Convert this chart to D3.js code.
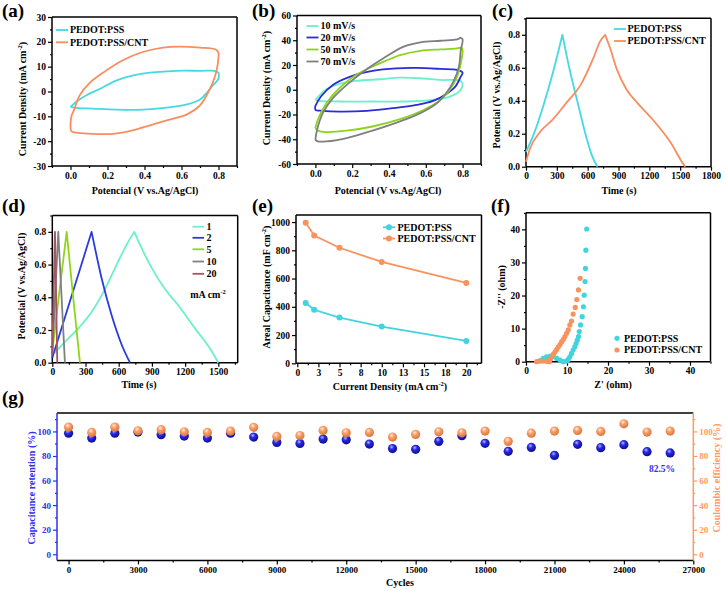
<!DOCTYPE html>
<html><head><meta charset="utf-8">
<script src="https://cdn.jsdelivr.net/npm/d3@7/dist/d3.min.js"></script>
<style>
body{margin:0;background:#fff}
svg{display:block}
text{font-family:"Liberation Serif","Times New Roman",serif;font-weight:bold}
</style></head>
<body><svg id="c" width="726" height="591"></svg>
<script>
// ---------------- DATA ----------------
// (a) CV loops [potential V, current mA cm-2]
const cvPSS = [[0,-6.2],[0.03,-4.2],[0.086,-1.5],[0.16,1.1],[0.25,4.5],[0.34,6.5],[0.43,7.6],[0.52,8.1],[0.61,8.4],[0.70,8.3],[0.78,8.3],[0.8,7.5],[0.8,5.2],[0.77,2.5],[0.74,-0.2],[0.70,-3.2],[0.63,-5.2],[0.52,-6.5],[0.39,-7.3],[0.25,-7.3],[0.12,-6.9],[0.03,-6.6],[0,-6.2]];
const cvCNT = [[0,-13.6],[0.005,-10],[0.018,-7.6],[0.05,-1.5],[0.10,3.2],[0.18,7.8],[0.28,12.5],[0.39,15.9],[0.5,17.7],[0.59,18.1],[0.70,17.7],[0.785,16.9],[0.8,15.5],[0.8,13.9],[0.79,8.5],[0.77,3.8],[0.74,-0.9],[0.70,-5.6],[0.63,-9.2],[0.52,-11.6],[0.43,-13.6],[0.34,-15.6],[0.23,-17.1],[0.10,-17],[0.03,-16.6],[0.005,-16],[0,-13.6]];
// (b) CV at scan rates
const scanLabels = ["10 mV/s","20 mV/s","50 mV/s","70 mV/s"];
const cv10 = [[0,-8.2],[0.06,0.4],[0.13,4.7],[0.22,7.1],[0.35,8.5],[0.46,9.8],[0.57,9.3],[0.68,7.9],[0.79,7.1],[0.8,3.9],[0.78,-1.5],[0.73,-5.5],[0.64,-8.2],[0.50,-9.5],[0.31,-9.5],[0.13,-9.5],[0.02,-9],[0,-8.2]];
const cv20 = [[0,-13],[0.03,-5.5],[0.095,3.9],[0.19,10.6],[0.31,15.2],[0.44,17.3],[0.55,17.6],[0.68,16.8],[0.77,16],[0.8,13.8],[0.79,10.6],[0.76,2.5],[0.71,-3.6],[0.64,-9],[0.55,-12.2],[0.42,-14.9],[0.28,-17],[0.13,-17.6],[0.04,-17],[0,-16.2],[0,-13]];
const cv50 = [[0,-31],[0.013,-24.3],[0.06,-10.9],[0.13,1.2],[0.22,11.9],[0.35,21.3],[0.46,28],[0.57,31.5],[0.68,32.6],[0.77,33.4],[0.795,34],[0.8,32],[0.79,21.3],[0.77,10.6],[0.73,-0.1],[0.68,-8.2],[0.59,-16.2],[0.46,-23.8],[0.31,-29.7],[0.17,-33.1],[0.06,-34.2],[0.013,-33],[0,-31]];
const cv70 = [[0,-40.4],[0.007,-33.7],[0.04,-18.9],[0.095,-6.8],[0.17,3.9],[0.26,14.6],[0.37,25.4],[0.48,34.8],[0.57,38.3],[0.68,39.6],[0.77,40.7],[0.79,42],[0.8,40.7],[0.79,32],[0.78,18.7],[0.75,6.6],[0.71,-2.8],[0.66,-10.9],[0.57,-18.9],[0.46,-25.6],[0.31,-33.1],[0.17,-39],[0.06,-41.7],[0.013,-41.7],[0,-40.4]];
// (c) GCD [time s, potential V]
const gcdPSS = [[0,0.09],[71,0.19],[169,0.37],[266,0.58],[354,0.8],[428,0.58],[510,0.37],[591,0.17],[640,0.07],[695,0]];
const gcdCNT = [[0,0.03],[39,0.11],[136,0.21],[266,0.29],[396,0.39],[526,0.49],[656,0.66],[721,0.76],[770,0.8],[818,0.72],[884,0.59],[981,0.465],[1079,0.39],[1241,0.28],[1404,0.15],[1533,0.014],[1550,0]];
// (d) GCD at current densities
const curLabels = ["1","2","5","10","20"];
const gcd1 = [[0,0.047],[114,0.128],[235,0.21],[355,0.31],[476,0.45],[596,0.62],[687,0.74],[741,0.8],[807,0.70],[898,0.58],[1018,0.45],[1139,0.35],[1289,0.21],[1440,0.07],[1500,0]];
const gcd2 = [[0,0.03],[120,0.29],[240,0.55],[355,0.8],[446,0.515],[536,0.29],[627,0.11],[702,0]];
const gcd5 = [[0,0.07],[65,0.44],[130,0.8],[190,0.39],[250,0]];
const gcd10 = [[0,0.05],[54,0.8],[114,0]];
const gcd20 = [[0,0.05],[24,0.8],[45,0]];
// (e) areal capacitance
const currentDensity = [1,2,5,10,20];
const capPSS = [427,379,324,260,158];
const capCNT = [996,905,818,718,569];
// (f) Nyquist [Z', -Z'']
const nyqPSS = [[3.4,0.3],[4.2,1.0],[5.0,1.5],[5.9,1.7],[6.7,1.5],[7.5,1.0],[8.3,0.5],[9.1,0.0],[9.9,0.2],[10.3,0.7],[10.7,1.5],[11.1,2.5],[11.5,3.5],[11.9,4.5],[12.2,5.5],[12.5,6.5],[12.8,7.6],[13.0,9.1],[13.3,11.1],[13.7,13.6],[14.0,16.6],[14.2,20.1],[14.4,24.2],[14.5,28.2],[14.6,33.7],[14.8,40.1]];
const nyqCNT = [[2.6,0.0],[3.4,0.2],[4.2,0.2],[5.0,0.1],[5.7,0.0],[5.9,0.7],[6.3,1.5],[6.7,2.3],[7.1,3.0],[7.5,3.7],[7.9,4.5],[8.3,5.2],[8.7,6.0],[9.1,6.7],[9.5,7.6],[9.9,8.6],[10.3,9.6],[10.7,11.1],[11.1,12.3],[11.5,14.4],[12.0,16.4],[12.4,18.8],[12.8,21.7],[13.2,25.2]];
// (g) cycling
const cycles = [0,1000,2000,3000,4000,5000,6000,7000,8000,9000,10000,11000,12000,13000,14000,15000,16000,17000,18000,19000,20000,21000,22000,23000,24000,25000,26000];
const retention = [98.6,94.6,98.6,99.5,97.3,96.2,94.6,98.6,95.4,91.0,90.2,93.8,93.2,89.7,86.0,85.4,91.9,96.5,90.3,83.8,87.0,80.5,89.5,86.8,89.2,83.5,82.5];
const efficiency = [103.5,99.2,103.5,100.5,101.4,99.7,99.2,100.3,103.3,95.9,96.7,100.8,98.9,99.2,95.4,97.6,99.7,98.9,100.3,91.9,98.6,100.3,100.8,100.0,106.2,99.5,100.3];

// ---------------- DRAWING ----------------
const svg = d3.select("#c");
const FONT = "'Liberation Serif','Times New Roman',serif";
const CY = "#45d9e3", OR = "#f98d5f";
const TFS = 9.5;
const defs = svg.append("defs");
function sphere(id, light, base, dark){
  const g = defs.append("radialGradient").attr("id",id).attr("cx","40%").attr("cy","32%").attr("r","62%");
  g.append("stop").attr("offset","0%").attr("stop-color",light);
  g.append("stop").attr("offset","40%").attr("stop-color",base);
  g.append("stop").attr("offset","100%").attr("stop-color",dark);
}
sphere("sBlue","#b8b8ff","#2a2ae6","#10109a");
sphere("sOrange","#fff0e4","#f8a26e","#e07a40");

function addAxis(axis, tr, color, size){
  const g = svg.append("g").attr("transform", tr).call(axis);
  g.attr("font-family", FONT).attr("font-size", size||TFS).attr("font-weight","bold");
  g.select(".domain").remove();
  g.selectAll("line").attr("stroke", color).attr("stroke-width", 1.2);
  g.selectAll("text").attr("fill", color);
  return g;
}
function seg(x1,y1,x2,y2,c,w){
  svg.append("line").attr("x1",x1).attr("y1",y1).attr("x2",x2).attr("y2",y2).attr("stroke",c).attr("stroke-width",w||1.5);
}
const blank = () => "";
function panel(box, xd, yd, o){
  const x = d3.scaleLinear().domain(xd).range([box.l, box.r]);
  const y = d3.scaleLinear().domain(yd).range([box.b, box.t]);
  const cL = o.colL || "#000";
  addAxis(d3.axisBottom(x).tickValues(o.xt).tickFormat(o.xf).tickSize(4).tickPadding(2), `translate(0,${box.b})`, "#000", o.fs);
  addAxis(d3.axisBottom(x).tickValues(o.xm).tickFormat(blank).tickSize(2), `translate(0,${box.b})`, "#000");
  addAxis(d3.axisLeft(y).tickValues(o.yt).tickFormat(o.yf).tickSize(4).tickPadding(2), `translate(${box.l},0)`, cL, o.fs);
  addAxis(d3.axisLeft(y).tickValues(o.ym).tickFormat(blank).tickSize(2), `translate(${box.l},0)`, cL);
  if (o.colR){
    addAxis(d3.axisRight(y).tickValues(o.yt).tickFormat(o.yf).tickSize(4).tickPadding(2), `translate(${box.r},0)`, o.colR, o.fs);
    addAxis(d3.axisRight(y).tickValues(o.ym).tickFormat(blank).tickSize(2), `translate(${box.r},0)`, o.colR);
  }
  seg(box.l,box.t,box.r,box.t,"#000");
  seg(box.l,box.b,box.r,box.b,"#000");
  seg(box.l,box.t,box.l,box.b,cL);
  seg(box.r,box.t,box.r,box.b,o.colR||"#000");
  return {x,y};
}
function title(cx, cy, rot, parts, color, size){
  size = size || 10;
  const off = size*0.33;
  const tx = rot ? cx + off : cx, ty = rot ? cy : cy + off;
  const t = svg.append("text").attr("transform",`translate(${tx},${ty}) rotate(${rot})`)
    .attr("text-anchor","middle").attr("font-size",size).attr("fill",color||"#000");
  let raised = false;
  parts.forEach(p => {
    if (typeof p === "string"){
      const s = t.append("tspan").text(p);
      if (raised){ s.attr("dy", size*0.4); raised = false; }
    } else {
      t.append("tspan").attr("font-size", size*0.65).attr("dy", -size*0.4).text(p.sup);
      raised = true;
    }
  });
  return t;
}
function label(txt, x, y){
  svg.append("text").attr("x",x).attr("y",y).attr("font-size",19).text(txt);
}
function legendLine(x1, x2, y, color, txt, tx){
  seg(x1,y,x2,y,color,1.8);
  svg.append("text").attr("x",tx).attr("y",y+3.4).attr("font-size",10).text(txt);
}
const f1 = d => d.toFixed(1);
const fi = d => String(d);
const cvLine = (sc) => d3.line().x(d=>sc.x(d[0])).y(d=>sc.y(d[1])).curve(d3.curveCatmullRom.alpha(0.5));
function path(sc, data, color, gen){
  svg.append("path").datum(data).attr("d", (gen||cvLine)(sc)).attr("fill","none").attr("stroke",color).attr("stroke-width",1.8).attr("stroke-linejoin","round");
}
// GCD: charge and discharge branches are smoothed separately so the peak stays sharp
function gcdPath(sc, data, color){
  let k = 0;
  data.forEach((d,i)=>{ if (d[1] > data[k][1]) k = i; });
  const gen = d3.line().x(d=>sc.x(d[0])).y(d=>sc.y(d[1])).curve(d3.curveMonotoneX);
  const p = gen(data.slice(0,k+1)) + gen(data.slice(k)).replace(/^M/, "L");
  svg.append("path").attr("d", p).attr("fill","none").attr("stroke",color).attr("stroke-width",1.8).attr("stroke-linejoin","round");
}

// ---- (a)
{
  const sc = panel({l:52,t:17,r:237,b:166}, [-0.1,0.9], [-30,30], {
    xt:[0,0.2,0.4,0.6,0.8], xm:[-0.1,0.1,0.3,0.5,0.7,0.9], xf:f1,
    yt:[-30,-20,-10,0,10,20,30], ym:d3.range(-25,30,10), yf:fi});
  path(sc, cvPSS, CY); path(sc, cvCNT, OR);
  legendLine(56,68,30,CY,"PEDOT:PSS",70);
  legendLine(56,68,42.3,OR,"PEDOT:PSS/CNT",70);
  title(145,190.5,0,["Potencial (V vs.Ag/AgCl)"]);
  title(23,99,-90,["Current Density (mA cm",{sup:"-2"},")"]);
  label("(a)",2,17);
}
// ---- (b)
{
  const sc = panel({l:297,t:15.5,r:481,b:164}, [-0.1,0.9], [-60,60], {
    xt:[0,0.2,0.4,0.6,0.8], xm:[-0.1,0.1,0.3,0.5,0.7,0.9], xf:f1,
    yt:[-60,-40,-20,0,20,40,60], ym:d3.range(-50,60,20), yf:fi});
  const cols = ["#6af0cc","#2b2bd8","#8bd41a","#7f7f7f"];
  [cv10,cv20,cv50,cv70].forEach((d,i)=>path(sc,d,cols[i]));
  const ly = [26,37.5,49.5,61.5];
  scanLabels.forEach((s,i)=>legendLine(306.5,318.5,ly[i],cols[i],s,320.5));
  title(388,190.5,0,["Potencial (V vs.Ag/AgCl)"]);
  title(267,88,-90,["Current Density (mA cm",{sup:"-2"},")"]);
  label("(b)",252,17);
}
// ---- (c)
{
  const sc = panel({l:526,t:18.3,r:711,b:166.7}, [0,1800], [0,0.9], {
    xt:d3.range(0,1801,300), xm:d3.range(150,1800,300), xf:fi,
    yt:[0,0.2,0.4,0.6,0.8], ym:[0.1,0.3,0.5,0.7,0.9], yf:f1});
  gcdPath(sc, gcdPSS, CY); gcdPath(sc, gcdCNT, OR);
  legendLine(614,626,29,CY,"PEDOT:PSS",627.5);
  legendLine(614,626,41,OR,"PEDOT:PSS/CNT",627.5);
  title(619,190.5,0,["Time (s)"]);
  title(497,95,-90,["Potencial (V vs.Ag/AgCl)"]);
  label("(c)",492,17);
}
// ---- (d)
{
  const sc = panel({l:52.3,t:215.5,r:237.7,b:362.7}, [0,1675], [0,0.9], {
    xt:d3.range(0,1501,300), xm:d3.range(150,1675,300), xf:fi,
    yt:[0,0.2,0.4,0.6,0.8], ym:[0.1,0.3,0.5,0.7,0.9], yf:f1});
  const cols = ["#6af0cc","#2b3be0","#8fd61a","#808080","#a3565f"];
  [gcd1,gcd2,gcd5,gcd10,gcd20].forEach((d,i)=>gcdPath(sc,d,cols[i]));
  const ly = [226.7,237.8,249.3,261.5,273.8];
  curLabels.forEach((s,i)=>legendLine(192.5,204,ly[i],cols[i],s,206.5));
  title(208,294.5,0,["mA cm",{sup:"-2"}]);
  title(139,384.5,0,["Time (s)"]);
  title(22,286,-90,["Potencial (V vs.Ag/AgCl)"]);
  label("(d)",2,212);
}
// ---- (e)
{
  const sc = panel({l:296,t:215,r:481.5,b:363.3}, [-0.15,21.8], [0,1050], {
    xt:d3.range(0,20.1,2.5), xm:d3.range(1.25,21.5,2.5), xf:d=>String(Math.round(d)),
    yt:d3.range(0,1001,200), ym:d3.range(100,1001,200), yf:fi});
  const C1 = "#40d4e0", C2 = "#f7935f";
  const ln = d3.line().x(d=>sc.x(d[0])).y(d=>sc.y(d[1]));
  [[capPSS,C1],[capCNT,C2]].forEach(([vals,c])=>{
    const pts = currentDensity.map((x,i)=>[x,vals[i]]);
    svg.append("path").datum(pts).attr("d",ln).attr("fill","none").attr("stroke",c).attr("stroke-width",1.8);
    svg.selectAll(null).data(pts).enter().append("circle").attr("cx",d=>sc.x(d[0])).attr("cy",d=>sc.y(d[1])).attr("r",3).attr("fill",c);
  });
  [[C1,"PEDOT:PSS",227.3],[C2,"PEDOT:PSS/CNT",238.5]].forEach(([c,t,y])=>{
    legendLine(383,395,y,c,t,397.5);
    svg.append("circle").attr("cx",389).attr("cy",y).attr("r",3).attr("fill",c);
  });
  title(390,386.5,0,["Current Density (mA cm",{sup:"-2"},")"]);
  title(267,287,-90,["Areal Capacitance (mF cm",{sup:"-2"},")"]);
  label("(e)",252,212);
}
// ---- (f)
{
  const sc = panel({l:526,t:212.8,r:710.5,b:361.7}, [0,45], [0,45], {
    xt:d3.range(0,41,10), xm:d3.range(5,46,10), xf:fi,
    yt:d3.range(0,41,10), ym:d3.range(5,46,10), yf:fi});
  const C1 = "#40d4e0", C2 = "#f7935f";
  [[nyqPSS,C1],[nyqCNT,C2]].forEach(([pts,c])=>{
    svg.selectAll(null).data(pts).enter().append("circle").attr("cx",d=>sc.x(d[0])).attr("cy",d=>sc.y(d[1])).attr("r",2.6).attr("fill",c);
  });
  [[C1,"PEDOT:PSS",338.3],[C2,"PEDOT:PSS/CNT",350]].forEach(([c,t,y])=>{
    svg.append("circle").attr("cx",617).attr("cy",y).attr("r",2.6).attr("fill",c);
    svg.append("text").attr("x",624).attr("y",y+3.4).attr("font-size",10).text(t);
  });
  title(613,384.5,0,["Z' (ohm)"]);
  title(502,287,-90,["-Z'' (ohm)"]);
  label("(f)",491,212);
}
// ---- (g)
{
  const BL = "#3030ee", ORG = "#ff9a66";
  const sc = panel({l:57,t:413,r:693.3,b:560.4}, [-500,27000], [-5,115], {
    xt:d3.range(0,27001,3000), xm:d3.range(1500,27000,3000), xf:fi,
    yt:d3.range(0,101,20), ym:d3.range(10,111,20), yf:fi, colL:BL, colR:ORG, fs:9});
  svg.selectAll(null).data(cycles).enter().append("circle")
    .attr("cx",d=>sc.x(d)).attr("cy",(d,i)=>sc.y(retention[i])).attr("r",4.6).attr("fill","url(#sBlue)");
  svg.selectAll(null).data(cycles).enter().append("circle")
    .attr("cx",d=>sc.x(d)).attr("cy",(d,i)=>sc.y(efficiency[i])).attr("r",4.6).attr("fill","url(#sOrange)");
  svg.append("text").attr("x",662).attr("y",471.5).attr("text-anchor","middle").attr("font-size",9.5).attr("font-weight","normal").attr("fill",BL).text("82.5%");
  title(400,583,0,["Cycles"]);
  title(32,488,-90,["Capacitance retention (%)"], BL);
  title(717,478,-90,["Coulombic efficiency (%)"], ORG);
  label("(g)",2,404);
}
</script></body></html>
